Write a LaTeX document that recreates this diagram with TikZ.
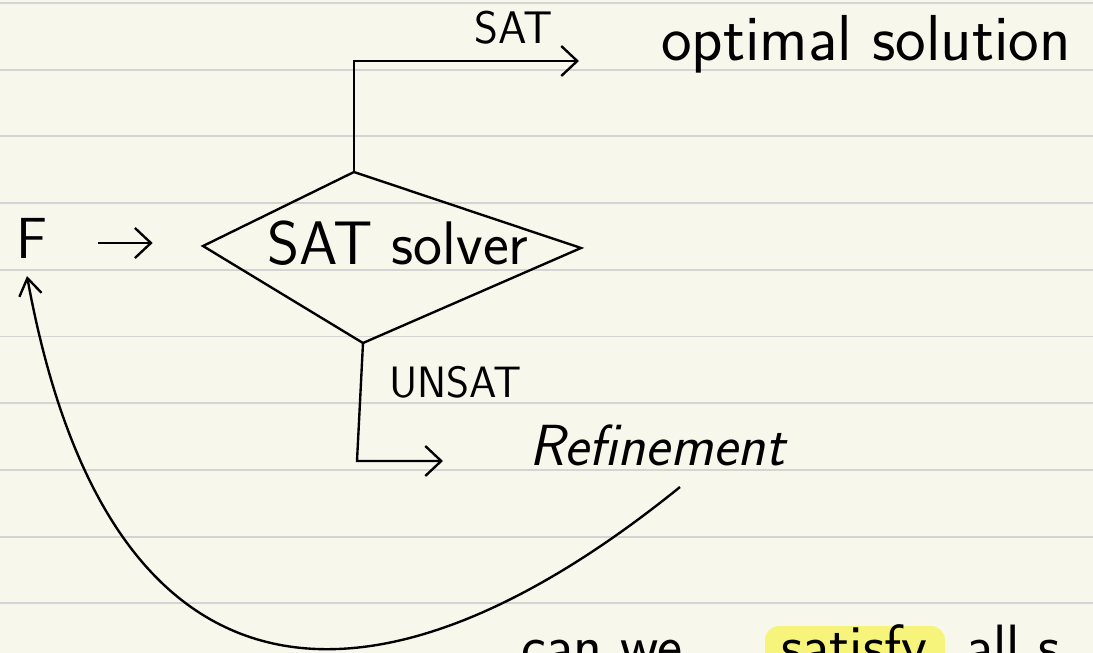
\documentclass[tikz,border=0pt]{standalone}
\usepackage{amsmath}
\usepackage[dvipsnames]{xcolor}
\usetikzlibrary{arrows.meta}

\definecolor{paper}{RGB}{248,247,236}
\definecolor{ruling}{RGB}{212,212,212}
\definecolor{marker}{RGB}{246,244,122}

\begin{document}
\begin{tikzpicture}[x=0.02cm,y=-0.02cm,line width=1.35pt,
  openarrow/.style={-{Straight Barb[length=0.32cm,width=0.6cm]}},
  hand/.style={font=\sffamily\fontsize{#1}{#1}\selectfont,inner sep=0pt}]
\useasboundingbox (0,0) rectangle (1093,653);
\fill[paper] (0,0) rectangle (1093,653);
\clip (0,0) rectangle (1093,653);

% ruled paper
\foreach \k in {0,...,9}
  \draw[ruling,line width=1.1pt] (0,{3+66.7*\k}) -- (1093,{3+66.7*\k});

% solver box
\coordinate (top) at (354,172);
\coordinate (right) at (581,248);
\coordinate (bottom) at (363,343);
\coordinate (left) at (203,246);
\draw (top) -- (right) -- (bottom) -- (left) -- cycle;
\node[hand=35] (solver) at (398,243) {SAT solver};

\node[hand=33] (F) at (32,238) {F};
\draw[openarrow] ([shift={(0.98cm,-0.1cm)}]F.east) -- ([shift={(2.08cm,-0.1cm)}]F.east);

%SAT branch
\coordinate (satend) at (579,61);
\draw[openarrow] (top) |- (satend);
\node[hand=26] (sat) at (514,28) {SAT};
\node[hand=37,anchor=base west] (optimal) at (660,60) {optimal solution};

%UNSAT branch
\coordinate (corner) at (357,461);
\coordinate (refend) at (443,461);
\draw[openarrow] (bottom) -- (corner) -- (refend);
\node[hand=25,anchor=base west] (unsat) at (388,397) {UNSAT};
\node[anchor=base west,inner sep=0pt,font=\sffamily\itshape\fontsize{33}{33}\selectfont] (refine) at (528,465) {Refinement};

% back to F
\coordinate (loopstart) at (680,487);
\coordinate (loopend) at (27,276);
\draw[-{Straight Barb[length=0.34cm,width=0.45cm]}] (loopstart) .. controls (380,730) and (110,730) .. (loopend);

% next line, cut off
\fill[marker,rounded corners=8pt] (765,626) rectangle (945,670);
\node[hand=34,anchor=base west] (can) at (520,666) {can we};
\node[hand=34,anchor=base west] (satisfy) at (780,666) {satisfy};
\node[hand=34,anchor=base west] (all) at (965,666) {all s};

\end{tikzpicture}
\end{document}
